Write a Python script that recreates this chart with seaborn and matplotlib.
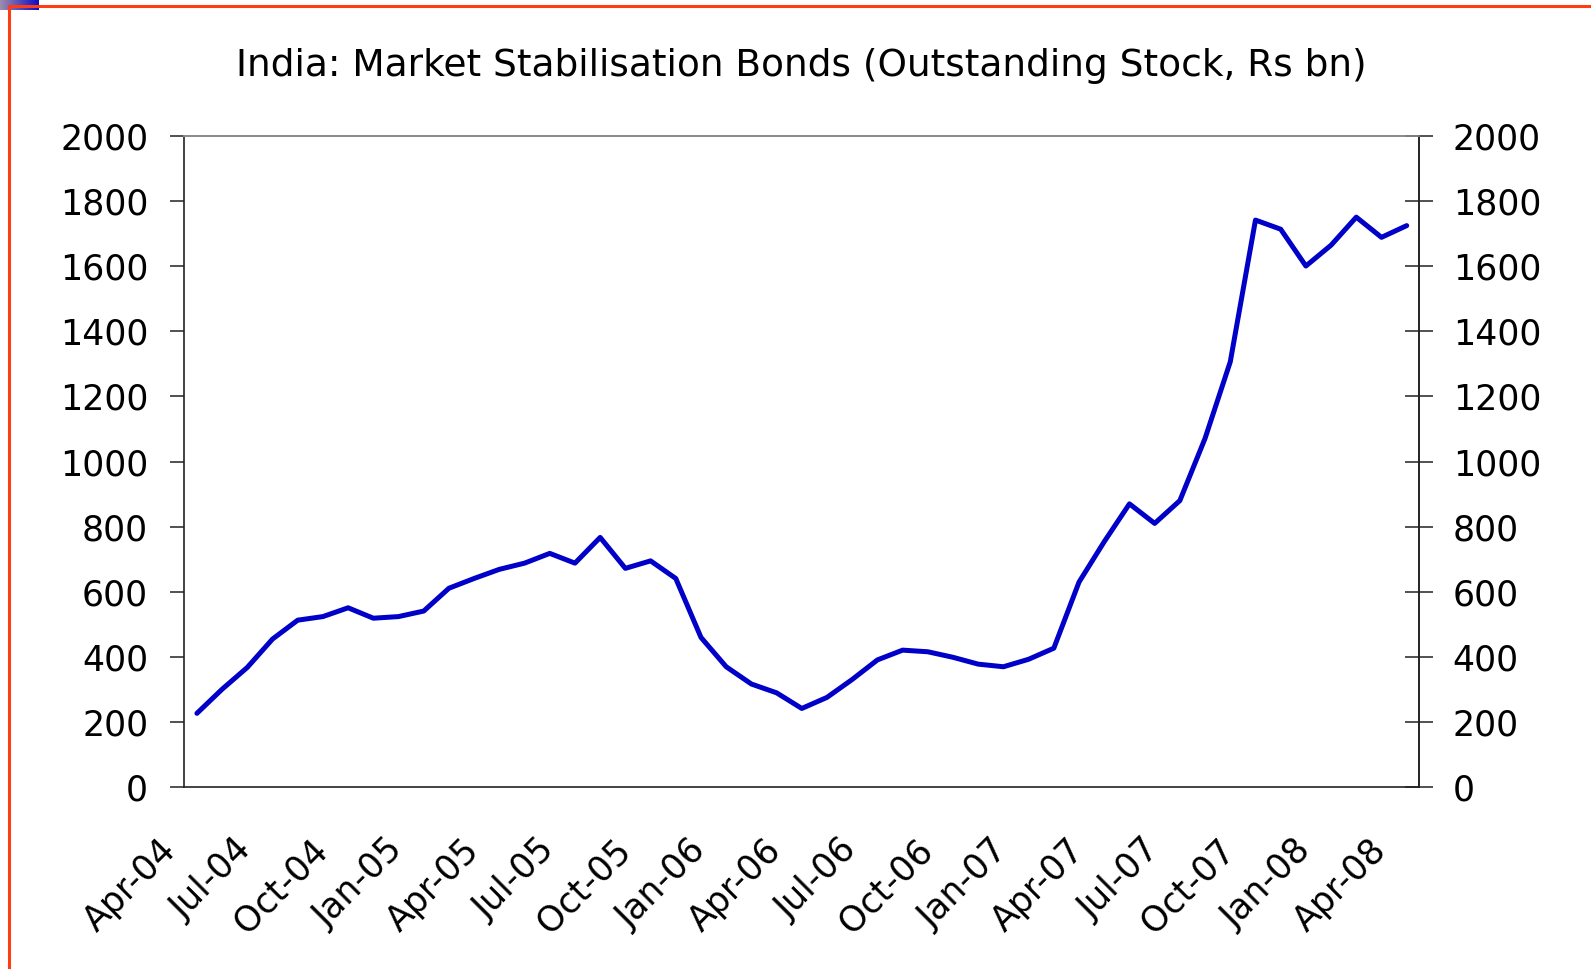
import numpy as np
import pandas as pd
import seaborn as sns
import matplotlib.pyplot as plt
from matplotlib.lines import Line2D
from matplotlib.transforms import ScaledTranslation

# Monthly outstanding stock of MSS bonds, Rs bn (Apr-04 .. Apr-08)
months = pd.date_range("2004-04-01", periods=49, freq="MS").strftime("%b-%y")
values = [227, 301, 368, 455, 513, 524, 551, 519, 524, 541,
          611, 641, 669, 688, 718, 688, 767, 672, 695, 641,
          460, 370, 317, 290, 242, 276, 331, 391, 421, 416,
          399, 378, 370, 393, 427, 630, 754, 870, 810, 880,
          1071, 1306, 1741, 1713, 1600, 1664, 1750, 1688, 1724]
tick_labels = ["Apr-04", "Jul-04", "Oct-04", "Jan-05", "Apr-05", "Jul-05",
               "Oct-05", "Jan-06", "Apr-06", "Jul-06", "Oct-06", "Jan-07",
               "Apr-07", "Jul-07", "Oct-07", "Jan-08", "Apr-08"]
y_ticks = list(range(0, 2001, 200))
title = "India: Market Stabilisation Bonds (Outstanding Stock, Rs bn)"

df = pd.DataFrame({"month": months, "pos": np.arange(len(values)), "value": values})

sns.set_style("white")
plt.rcParams["font.family"] = ["DejaVu Sans"]
plt.rcParams["text.color"] = "black"
plt.rcParams["xtick.color"] = "black"
plt.rcParams["ytick.color"] = "black"

W, H = 1591, 969
fig = plt.figure(figsize=(W / 100, H / 100), dpi=100)
fig.patch.set_facecolor("white")

left, right, top, bottom = 184.3, 1419.3, 135.7, 787.3
ax = fig.add_axes([left / W, 1 - bottom / H, (right - left) / W, (bottom - top) / H])

sns.lineplot(data=df, x="pos", y="value", ax=ax, color="#0000C8", linewidth=3.6)

ax.set_xlim(-0.5, len(values) - 0.5)
ax.set_ylim(0, 2000)
ax.set_xlabel("")
ax.set_ylabel("")
ax.grid(False)

# category boundaries every 3 months
ax.set_xticks(np.arange(-0.5, len(values), 3))
ax.set_xticklabels(tick_labels, fontsize=25)
ax.tick_params(axis="x", direction="out", length=9.4, width=1.1, color="#222222",
               labelcolor="black", pad=37)
for lab in ax.get_xticklabels():
    lab.set_rotation(45)
    lab.set_ha("right")
    lab.set_va("baseline")
    lab.set_rotation_mode("anchor")
    lab.set_transform(lab.get_transform() + ScaledTranslation(-0.06, 0, fig.dpi_scale_trans))

ax.set_yticks(y_ticks)
ax.set_yticklabels([str(v) for v in y_ticks], fontsize=25)
ax.tick_params(axis="y", direction="out", length=10, width=1.1, color="#222222",
               labelcolor="black", pad=16)

# right-hand axis, cross ticks
ax2 = ax.twinx()
ax2.set_ylim(0, 2000)
ax2.set_yticks(y_ticks)
ax2.set_yticklabels([str(v) for v in y_ticks], fontsize=25)
ax2.tick_params(axis="y", direction="inout", length=20, width=1.1, color="#222222",
                labelcolor="black", pad=14)
ax2.grid(False)

for a in (ax, ax2):
    for s in ("left", "bottom", "right"):
        a.spines[s].set_color("#222222")
        a.spines[s].set_linewidth(1.2)
    a.spines["top"].set_color("#8a8a8a")
    a.spines["top"].set_linewidth(1.2)
ax2.spines["left"].set_visible(False)
ax2.spines["bottom"].set_visible(False)

fig.text(801 / W, 1 - 66 / H, title, ha="center", va="center", fontsize=27, color="black")

# slide frame remnants
fig.add_artist(Line2D([9 / W, 9 / W], [0, 1 - 6 / H], transform=fig.transFigure,
                      color="#FF3C14", linewidth=2.2))
fig.add_artist(Line2D([9 / W, 1], [1 - 6 / H, 1 - 6 / H], transform=fig.transFigure,
                      color="#FF3C14", linewidth=2.2))
gax = fig.add_axes([0, 1 - 10 / H, 39 / W, 10 / H])
grad = np.linspace(0, 1, 64)[None, :, None]
c0 = np.array([0.62, 0.55, 0.68])[None, None, :]
c1 = np.array([0.05, 0.05, 0.78])[None, None, :]
gax.imshow(c0 * (1 - grad) + c1 * grad, aspect="auto")
gax.axis("off")

fig.savefig("out.png", dpi=100)
plt.close(fig)
